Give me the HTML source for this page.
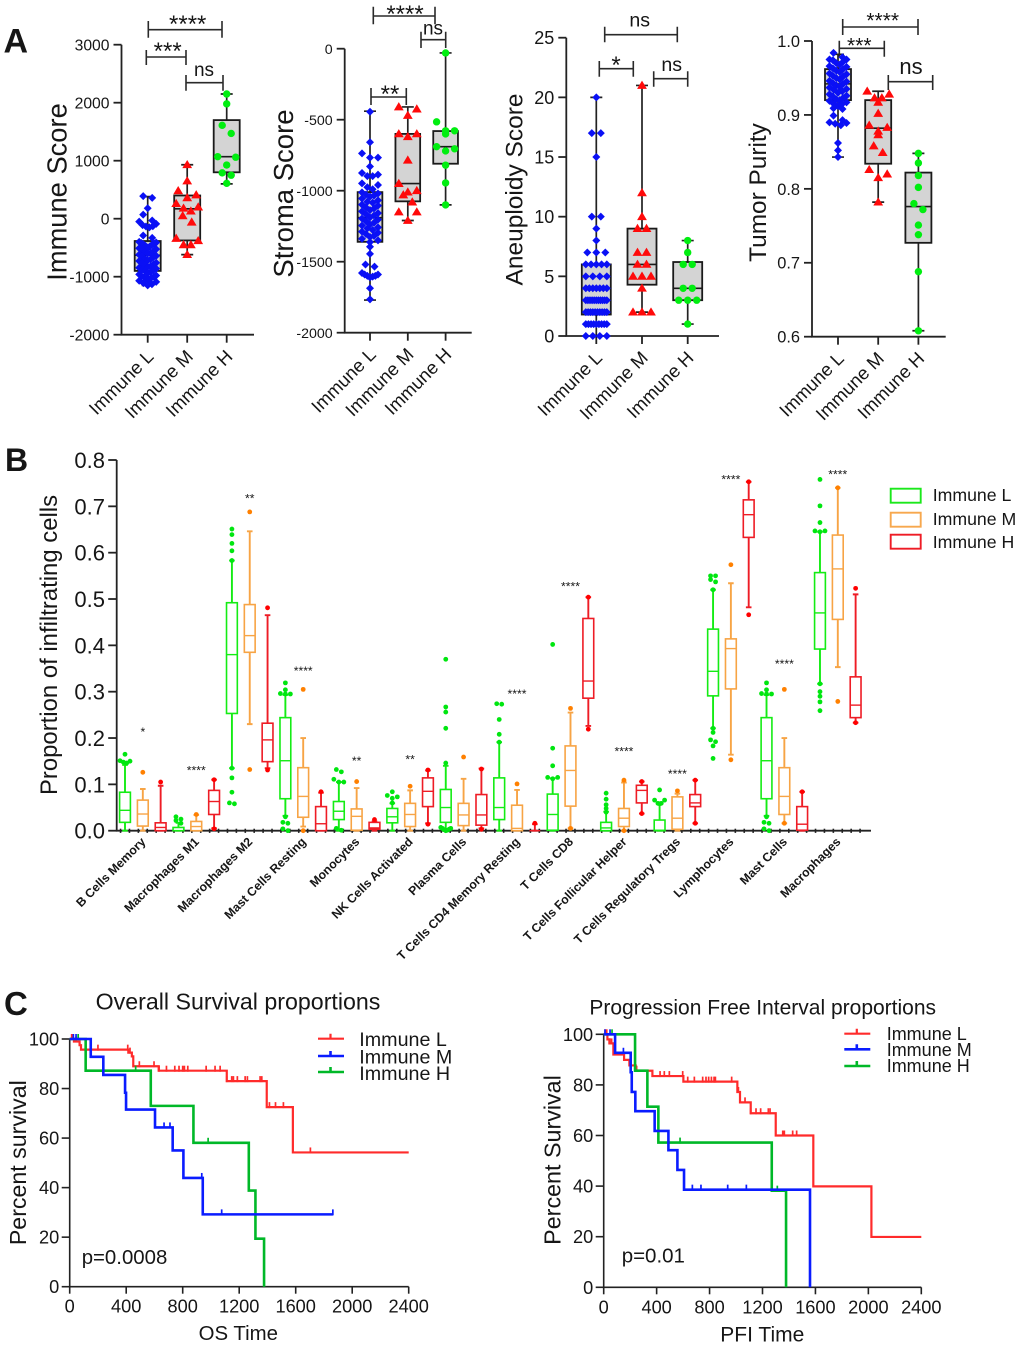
<!DOCTYPE html>
<html lang="en">
<head>
<meta charset="utf-8">
<title>Immune subgroup figure</title>
<style>
html,body{margin:0;padding:0;background:#fff}
svg{display:block;font-family:"Liberation Sans",Arial,sans-serif;fill:#161616}
.br{fill:none;stroke:#2a2a2a;stroke-width:1.6}
</style>
</head>
<body>
<svg id="figure" xmlns="http://www.w3.org/2000/svg" width="1020" height="1347" viewBox="0 0 1020 1347">
<rect x="0" y="0" width="1020" height="1347" fill="#fff"/>

<text x="3.5" y="52.7" font-size="34" font-weight="700">A</text>
<text x="5" y="471" font-size="32" font-weight="700">B</text>
<text x="4" y="1015" font-size="33" font-weight="700">C</text>

<text transform="translate(66.7 192) rotate(-90)" text-anchor="middle" font-size="27.3">Immune Score</text>
<text transform="translate(293 193.5) rotate(-90)" text-anchor="middle" font-size="27.5">Stroma Score</text>
<text transform="translate(522.7 189.5) rotate(-90)" text-anchor="middle" font-size="24.5">Aneuploidy Score</text>
<text transform="translate(766 192.5) rotate(-90)" text-anchor="middle" font-size="24.4">Tumor Purity</text>

<g>
<path class="br" d="M148.3 21V37.7M148.3 29.7H222M222 21V37.7"/>
<text x="187.7" y="32" text-anchor="middle" font-size="24">****</text>
<path class="br" d="M146.3 50V65M146.3 57H186M186 50V65"/>
<text x="167.7" y="59" text-anchor="middle" font-size="24">***</text>
<path class="br" d="M186 75V90.7M186 82.7H223M223 75V90.7"/>
<text x="204" y="76" text-anchor="middle" font-size="19">ns</text>
</g>
<g>
<path class="br" d="M373.3 6.7V24.3M373.3 16H435M435 6.7V24.3"/>
<text x="405" y="22" text-anchor="middle" font-size="24">****</text>
<path class="br" d="M421 31.7V48M421 39.7H445.7M445.7 31.7V48"/>
<text x="433" y="34.7" text-anchor="middle" font-size="19">ns</text>
<path class="br" d="M371 88V105M371 97H406.3M406.3 88V105"/>
<text x="390" y="102" text-anchor="middle" font-size="24">**</text>
</g>
<g>
<path class="br" d="M604.7 26.7V42.3M604.7 34.7H677.3M677.3 26.7V42.3"/>
<text x="639.7" y="26.7" text-anchor="middle" font-size="19.6">ns</text>
<path class="br" d="M599.3 61V76.7M599.3 68.7H633.3M633.3 61V76.7"/>
<text x="616" y="73" text-anchor="middle" font-size="24">*</text>
<path class="br" d="M653.7 71.3V86.7M653.7 78.7H687.7M687.7 71.3V86.7"/>
<text x="671.7" y="71" text-anchor="middle" font-size="19.6">ns</text>
</g>
<g>
<path class="br" d="M842.7 19V35M842.7 27H918M918 19V35"/>
<text x="882.7" y="27.7" text-anchor="middle" font-size="21">****</text>
<path class="br" d="M839.3 40.7V56.7M839.3 48.3H884.3M884.3 40.7V56.7"/>
<text x="859.3" y="52.7" text-anchor="middle" font-size="21">***</text>
<path class="br" d="M888.3 75V90M888.3 81.7H932.7M932.7 75V90"/>
<text x="911" y="74" text-anchor="middle" font-size="22">ns</text>
</g>

<text transform="translate(57 645) rotate(-90)" text-anchor="middle" font-size="23.9">Proportion of infiltrating cells</text>
<g>
<rect x="890.7" y="488.7" width="30" height="14" fill="none" stroke="#1be81b" stroke-width="1.9"/>
<text x="932.7" y="501" font-size="17.7">Immune L</text>
<rect x="890.7" y="512.7" width="30" height="14" fill="none" stroke="#f7a84e" stroke-width="1.9"/>
<text x="932.7" y="525" font-size="17.7">Immune M</text>
<rect x="890.7" y="534.7" width="30" height="14" fill="none" stroke="#ee1c25" stroke-width="1.9"/>
<text x="932.7" y="548" font-size="17.7">Immune H</text>
</g>

<text x="238" y="1009.3" text-anchor="middle" font-size="23.2">Overall Survival proportions</text>
<text transform="translate(26 1162.7) rotate(-90)" text-anchor="middle" font-size="23.2">Percent survival</text>
<text x="238.3" y="1340" text-anchor="middle" font-size="20.4">OS Time</text>
<text x="81.7" y="1264" font-size="20.4">p=0.0008</text>
<text x="762.7" y="1014.3" text-anchor="middle" font-size="21">Progression Free Interval proportions</text>
<text transform="translate(560.7 1160) rotate(-90)" text-anchor="middle" font-size="23.3">Percent Survival</text>
<text x="762.3" y="1341.7" text-anchor="middle" font-size="21">PFI Time</text>
<text x="621.7" y="1262.7" font-size="20.5">p=0.01</text>
</svg>

<script>
// ---------- Panel A data ----------
const groupNames = ['Immune L','Immune M','Immune H'];

const immuneTicks = [3000,2000,1000,0,-1000,-2000];
const immuneScoreL = [390,360,180,70,-30,-50,-90,-110,-130,-135,-150,-290,-330,-400,-410,-420,-435,-440,-450,-470,-480,-500,-510,-525,-540,-560,-570,-590,-600,-620,-640,-650,-665,-690,-700,-720,-730,-760,-770,-790,-800,-820,-830,-845,-860,-880,-890,-900,-920,-940,-960,-980,-990,-1000,-1010,-1020,-1035,-1050,-1070,-1090,-1110,-1130,-1150];
const immuneScoreM = [930,650,480,410,360,260,200,180,130,50,-60,-340,-380,-450,-450,-620];
const immuneScoreH = [2150,1980,1610,1470,1070,1060,925,790,750,610];
const immuneBoxes = [[-1150,-900,-630,-385,380],[-620,-375,170,400,930],[600,800,1070,1700,2150]];

const stromaTicks = [0,-500,-1000,-1500,-2000];
const stromaScoreL = [-444,-659,-737,-767,-767,-830,-875,-887,-897,-897,-948,-960,-976,-990,-1012,-1020,-1028,-1035,-1042,-1055,-1068,-1078,-1085,-1098,-1105,-1118,-1125,-1137,-1146,-1158,-1166,-1175,-1188,-1196,-1204,-1215,-1226,-1238,-1245,-1258,-1265,-1277,-1288,-1296,-1305,-1318,-1326,-1338,-1350,-1362,-1395,-1445,-1520,-1535,-1580,-1590,-1590,-1600,-1600,-1605,-1610,-1687,-1765];
const stromaScoreM = [-410,-425,-470,-600,-600,-620,-785,-950,-1000,-1010,-1030,-1080,-1150,-1150,-1210];
const stromaScoreH = [-30,-515,-578,-578,-600,-690,-705,-720,-820,-945,-1100];
const stromaBoxes = [[-1770,-1360,-1190,-1010,-440],[-1210,-1075,-950,-600,-410],[-1100,-810,-690,-580,-30]];

const aneuploidyTicks = [25,20,15,10,5,0];
const aneuploidyL = [0,0,0,0,1,1,1,1,1,1,1,1,1,2,2,2,2,2,2,2,2,2,2,3,3,3,3,3,3,3,3,3,3,3,4,4,4,4,4,4,4,5,5,5,5,6,6,6,6,6,7,7,7,8,9,10,10,15,17,17,20];
const aneuploidyM = [2,2,2,4,5,5,5,6,6,7,7,9,9,10,12,21];
const aneuploidyH = [1,3,3,3,4,4,6,6,7,8];
const aneuploidyBoxes = [[0,1.8,3,6,20],[2,4.3,6,9,21],[1,3,4,6.2,8]];

const purityTicks = ['1.0','0.9','0.8','0.7','0.6'];
const purityL = [.984,.978,.975,.975,.974,.972,.97,.968,.966,.965,.963,.962,.96,.958,.956,.955,.953,.952,.95,.948,.946,.945,.943,.942,.94,.938,.937,.935,.934,.932,.93,.928,.926,.925,.923,.921,.92,.919,.917,.915,.915,.912,.909,.908,.899,.893,.89,.889,.888,.886,.862,.852,.843];
const purityM = [.932,.928,.923,.923,.917,.902,.886,.883,.878,.873,.858,.849,.826,.82,.815,.782];
const purityH = [.848,.835,.818,.802,.78,.772,.751,.738,.688,.608];
const purityBoxes = [[.843,.92,.942,.962,.982],[.782,.834,.882,.92,.932],[.608,.727,.776,.822,.848]];

// ---------- Panel B data ----------
const cellTypes = ['B Cells Memory','Macrophages M1','Macrophages M2','Mast Cells Resting','Monocytes','NK Cells Activated','Plasma Cells','T Cells CD4 Memory Resting','T Cells CD8','T Cells Follicular Helper','T Cells Regulatory Tregs','Lymphocytes','Mast Cells','Macrophages'];
const proportionTicks = ['0.8','0.7','0.6','0.5','0.4','0.3','0.2','0.1','0.0'];
const boxL = [[0,.018,.044,.083,.142],[0,0,0,.007,.017],[.135,.253,.38,.492,.583],[.032,.069,.151,.244,.293],[0,.024,.042,.063,.105],[0,.017,.03,.048,.059],[0,.018,.05,.089,.14],[0,.024,.05,.114,.191],[0,.001,.035,.079,.113],[0,0,.006,.018,.041],[0,0,.001,.023,.059],[.221,.291,.344,.435,.52],[.032,.069,.151,.244,.293],[.317,.392,.47,.557,.645]];
const boxM = [[0,.01,.036,.066,.09],[0,0,.009,.02,.034],[.23,.385,.421,.488,.646],[.009,.029,.074,.136,.2],[0,.001,.031,.047,.092],[0,.009,.035,.059,.087],[0,.011,.034,.059,.112],[0,0,.005,.055,.088],[.005,.053,.13,.183,.255],[0,.009,.027,.048,.104],[0,.003,.027,.073,.08],[.164,.306,.393,.414,.534],[.016,.035,.074,.136,.2],[.353,.456,.565,.638,.74]];
const boxH = [[0,0,.007,.017,.097],[.005,.035,.063,.087,.11],[.135,.149,.196,.232,.465],[0,0,.015,.052,.082],[0,.003,.006,.018,.02],[.016,.052,.085,.114,.13],[.005,.012,.034,.078,.134],[0,0,0,0,.014],[.226,.286,.323,.458,.504],[.037,.06,.087,.098,.106],[.016,.052,.06,.078,.109],[.482,.633,.682,.714,.753],[0,.001,.014,.052,.084],[.233,.244,.271,.332,.51]];
const outL = [[.165,.15,.148,.151,.146],[.03,.025,.022,.016],[.651,.639,.62,.604,.583,.135,.114,.083,.06,.058],[.319,.304,.296,.295,.295,.03,.018,.016,.004,0],[.132,.127,.111,.105,.105,.005,.001],[.084,.076,.073,.07,.06],[.37,.267,.256,.221,.146,.007,.005,.005,.003,.002,.001,0],[.274,.273,.24,.208,.191],[.402,.178,.14,.115,.115,.112],[.081,.068,.056,.048,.04],[.088,.066,.066,.059,.059,.058],[.55,.55,.542,.537,.52,.221,.212,.196,.192,.183,.156],[.319,.304,.296,.295,.295,.03,.018,.016,.004,0],[.758,.701,.665,.647,.645,.647,.317,.3,.29,.278,.259]];
const outM = [[.126],[.035],[.688,.132],[.305,0],[.106],[.096],[.159],[.101],[.264,.005],[.109,0],[.086],[.574,.153],[.305,.016],[.74,.279]];
const outH = [[.105],[.11,.004],[.481,.131],[.084],[.024],[.131,.014],[.133,.003],[.016],[.504,.219],[.106,.037],[.109,.016],[.753,.466],[.084],[.523,.233]];
const sigLabels = ['*','****','**','****','**','**','','****','****','****','****','****','****','****'];
const sigLevels = [.219,.136,.723,.351,.157,.16,0,.301,.534,.177,.129,.764,.366,.775];

// ---------- Panel C data ----------
const timeTicks = [0,400,800,1200,1600,2000,2400];
const survivalTicks = [100,80,60,40,20,0];
const osTimeL = [0,30,70,80,415,440,450,630,1112,1395,1580,2400];
const osSurvL = [100,99,97.5,95.7,94.5,93,89,87.2,83,72.5,54.2,54.2];
const osCensorL = [14,45,200,411,427,493,597,633,685,744,774,800,812,836,966,1029,1065,1112,1147,1159,1187,1242,1258,1348,1360,1414,1457,1513,1704];
const osTimeM = [0,149,238,392,399,604,729,805,942,1863];
const osSurvM = [100,92.8,85.5,78.3,71.5,64.3,55,43.9,29.2,29.2];
const osCensorM = [26,45,668,710,935,1076,1863];
const osTimeH = [0,113,574,876,1268,1315,1376];
const osSurvH = [100,87.2,73,58.1,38.8,19.4,0];
const osCensorH = [60,467,980];
const pfiTimeL = [0,28,43,73,154,194,242,368,602,1010,1030,1111,1300,1584,2023,2400];
const pfiSurvL = [100,98,96.4,92,89.9,87.7,85.6,83.5,81.3,77.2,73.1,68.8,60,39.9,19.9,19.9];
const pfiCensorL = [10,23,48,60,249,426,458,496,597,635,685,748,773,793,814,834,844,967,1018,1068,1111,1151,1186,1244,1257,1353,1365,1428,1458];
const pfiTimeM = [0,86,204,212,239,385,489,557,607,1559];
const pfiSurvM = [100,92.7,85,77.2,69.6,61.8,54.2,46.4,38.6,0];
const pfiCensorM = [10,48,149,670,735,937,1078];
const pfiTimeH = [0,237,330,413,1270,1378];
const pfiSurvH = [100,85.6,71.4,57.2,38.2,0];
const pfiCensorH = [63,237,577,1312];

// ---------- Helpers ----------
const svgEl = document.getElementById('figure');
const NS = 'http://www.w3.org/2000/svg';
function mk(tag, attrs, parent){
  const e = document.createElementNS(NS, tag);
  for (const k in attrs) e.setAttribute(k, attrs[k]);
  parent.appendChild(e);
  return e;
}
function swarm(values, yOf, binPx, spacing, maxW){
  const sorted = values.slice().sort((a,b)=>b-a);
  const bins = [];
  sorted.forEach(v=>{
    const b = bins[bins.length-1];
    if (b && Math.abs(yOf(b[0])-yOf(v)) < binPx) b.push(v); else bins.push([v]);
  });
  const out = [];
  bins.forEach(b=>{
    const n = b.length;
    const d = n>1 ? Math.min(spacing, maxW/(n-1)) : 0;
    // highest values go to the outside, producing the chevron pattern of the swarm
    const slots = [];
    for (let i=0;i<n;i++) slots.push((i-(n-1)/2)*d);
    slots.sort((p,q)=>Math.abs(q)-Math.abs(p));
    b.forEach((v,i)=>out.push({v:v,dx:slots[i]}));
  });
  return out;
}
function marker(kind, x, y, color, parent){
  if (kind==='circle') return mk('circle',{cx:x,cy:y,r:3.7,fill:color},parent);
  if (kind==='diamond') return mk('path',{d:`M${x} ${y-4}L${x+4} ${y}L${x} ${y+4}L${x-4} ${y}Z`,fill:color},parent);
  return mk('path',{d:`M${x} ${y-4.8}L${x+4.9} ${y+3.4}L${x-4.9} ${y+3.4}Z`,fill:color},parent);
}

// ---------- Panel A ----------
function drawSwarmPanel(cfg){
  const root = mk('g',{},svgEl);
  
  
  const y = v => cfg.yTop + (cfg.vTop - v) * (cfg.yBottom - cfg.yTop) / (cfg.vTop - cfg.vBottom);
  const x = i => cfg.catStart + i * cfg.catStep;
  const axis = mk('path',{d:`M${cfg.axisX} ${cfg.yTop}V${cfg.yBottom}H${cfg.xEnd}`,fill:'none',stroke:'#222','stroke-width':1.8},root);
  
  
  cfg.ticks.forEach(t=>{
    const v = +t, py = y(v);
    const tk = mk('line',{x1:cfg.axisX-8,x2:cfg.axisX,y1:py,y2:py,stroke:'#222','stroke-width':1.8},root);
    
    
    const lb = mk('text',{x:cfg.axisX-12,y:py+cfg.tickFont*0.36,'text-anchor':'end','font-size':cfg.tickFont},root);
    
    
    lb.textContent = t;
  });
  const kinds = ['diamond','triangle','circle'];
  const colors = ['#0a10f5','#ff0a0a','#00ee10'];
  const binPx = [6,9,9];
  groupNames.forEach((g,i)=>{
    const cx = x(i), st = cfg.boxes[i], hw = cfg.boxW/2;
    const grp = mk('g',{},root);
    
    
    const tk = mk('line',{x1:cx,x2:cx,y1:cfg.yBottom,y2:cfg.yBottom+8,stroke:'#222','stroke-width':1.8},grp);
    
    
    const wh = mk('path',{d:`M${cx} ${y(st[0])}V${y(st[4])}M${cx-6} ${y(st[0])}H${cx+6}M${cx-6} ${y(st[4])}H${cx+6}`,fill:'none',stroke:'#222','stroke-width':1.7},grp);
    
    
    const bx = mk('rect',{x:cx-hw,y:y(st[3]),width:cfg.boxW,height:y(st[1])-y(st[3]),fill:'#d4d4d4',stroke:'#1a1a1a','stroke-width':1.8},grp);
    
    
    const md = mk('line',{x1:cx-hw,x2:cx+hw,y1:y(st[2]),y2:y(st[2]),stroke:'#1a1a1a','stroke-width':1.6},grp);
    
    
    const maxW = i===0 ? cfg.swarmW : cfg.boxW-4;
    swarm(cfg.series[i],y,binPx[i],9,maxW).forEach(p=>{
      const m = marker(kinds[i],cx+p.dx,y(p.v),colors[i],grp);
      
      
    });
    const lab = mk('text',{transform:`translate(${cx+7} ${cfg.yBottom+23}) rotate(-45)`,'text-anchor':'end','font-size':cfg.catFont},grp);
    
    
    lab.textContent = g;
  });
}
drawSwarmPanel({name:'immune-score',axisX:121.5,yTop:44.7,yBottom:334.7,vTop:3000,vBottom:-2000,xEnd:254,catStart:147.7,catStep:39.5,boxW:26,swarmW:17,ticks:immuneTicks,tickFont:15.7,catFont:18.5,series:[immuneScoreL,immuneScoreM,immuneScoreH],boxes:immuneBoxes});
drawSwarmPanel({name:'stroma-score',axisX:344.7,yTop:48.7,yBottom:332.7,vTop:0,vBottom:-2000,xEnd:471.7,catStart:370,catStep:37.8,boxW:24.7,swarmW:16,ticks:stromaTicks,tickFont:14.2,catFont:18.5,series:[stromaScoreL,stromaScoreM,stromaScoreH],boxes:stromaBoxes});
drawSwarmPanel({name:'aneuploidy-score',axisX:566.3,yTop:37.7,yBottom:336,vTop:25,vBottom:0,xEnd:719,catStart:596.3,catStep:45.7,boxW:29,swarmW:21,ticks:aneuploidyTicks,tickFont:18,catFont:18.5,series:[aneuploidyL,aneuploidyM,aneuploidyH],boxes:aneuploidyBoxes});
drawSwarmPanel({name:'tumor-purity',axisX:812,yTop:41,yBottom:336.7,vTop:1.0,vBottom:0.6,xEnd:945.7,catStart:838,catStep:40.2,boxW:26,swarmW:17,ticks:purityTicks,tickFont:16.4,catFont:18.5,series:[purityL,purityM,purityH],boxes:purityBoxes});

// ---------- Panel B ----------
(function(){
  const root = mk('g',{},svgEl);
  
  
  const axisX = 116.7, yTop = 460, yBottom = 830.7, xEnd = 871;
  const slot = 17.82, x0 = 125;
  const y = v => yBottom - v * (yBottom - yTop) / 0.8;
  const axis = mk('path',{d:`M${axisX} ${yTop}V${yBottom}H${xEnd}`,fill:'none',stroke:'#222','stroke-width':1.8},root);
  
  
  proportionTicks.forEach(t=>{
    const py = y(+t);
    const tk = mk('line',{x1:axisX-8.5,x2:axisX,y1:py,y2:py,stroke:'#222','stroke-width':1.8},root);
    
    
    const lb = mk('text',{x:105,y:py+8,'text-anchor':'end','font-size':22},root);
    
    
    lb.textContent = t;
  });
  for (let k=0;k<84;k++){
    const tx = x0 - slot/4 + k*slot/2;
    if (tx > xEnd) break;
    const tk = mk('line',{x1:tx,x2:tx,y1:yBottom-2,y2:yBottom+2.2,stroke:'#222','stroke-width':1.6},root);
    
    
  }
  const strokes = ['#14ec14','#f7a445','#ee1c25'];
  const dots = ['#00e610','#ff8000','#ff0000'];
  const boxes = [boxL,boxM,boxH];
  const outs = [outL,outM,outH];
  cellTypes.forEach((c,gi)=>{
    const grp = mk('g',{},root);
    
    
    for (let s=0;s<3;s++){
      const cx = x0 + (gi*3+s)*slot, st = boxes[s][gi], hw = 5.4;
      const wh = mk('path',{d:`M${cx} ${y(st[0])}V${y(st[4])}M${cx-2.8} ${y(st[0])}H${cx+2.8}M${cx-2.8} ${y(st[4])}H${cx+2.8}`,fill:'none',stroke:strokes[s],'stroke-width':1.9},grp);
      
      
      const bx = mk('rect',{x:cx-hw,y:y(st[3]),width:hw*2,height:y(st[1])-y(st[3]),fill:'#fff',stroke:strokes[s],'stroke-width':1.6},grp);
      
      
      const md = mk('line',{x1:cx-hw,x2:cx+hw,y1:y(st[2]),y2:y(st[2]),stroke:strokes[s],'stroke-width':1.4},grp);
      
      
      swarm(outs[s][gi],y,3.5,5,10).forEach(p=>{
        const d = mk('circle',{cx:cx+p.dx,cy:y(p.v),r:2.4,fill:dots[s]},grp);
        
        
      });
    }
    const mid = x0 + (gi*3+1)*slot;
    if (sigLabels[gi]){
      const st = mk('text',{x:mid,y:y(sigLevels[gi])+7,'text-anchor':'middle','font-size':12.2},grp);
      
      
      st.textContent = sigLabels[gi];
    }
    const lab = mk('text',{transform:`translate(${mid+3.5} 842.5) rotate(-45)`,'text-anchor':'end','font-size':12.3,'font-weight':700},grp);
    
    
    lab.textContent = c;
  });
})();

// ---------- Panel C ----------
function stepAt(times, surv, t){
  let s = surv[0];
  for (let i=0;i<times.length;i++) if (times[i] <= t) s = surv[i];
  return s;
}
function drawKM(cfg){
  const root = mk('g',{},svgEl);
  
  
  const x = t => cfg.x0 + t * (cfg.x1 - cfg.x0) / 2400;
  const y = s => cfg.y0 + (100 - s) * (cfg.y1 - cfg.y0) / 100;
  const axis = mk('path',{d:`M${cfg.x0} ${cfg.y0}V${cfg.y1}H${cfg.x1}`,fill:'none',stroke:'#222','stroke-width':1.6},root);
  
  
  survivalTicks.forEach(t=>{
    const tk = mk('line',{x1:cfg.x0-8,x2:cfg.x0,y1:y(t),y2:y(t),stroke:'#222','stroke-width':1.6},root);
    
    
    const lb = mk('text',{x:cfg.x0-10.5,y:y(t)+6.5,'text-anchor':'end','font-size':18.2},root);
    
    
    lb.textContent = t;
  });
  timeTicks.forEach(t=>{
    const tk = mk('line',{x1:x(t),x2:x(t),y1:cfg.y1,y2:cfg.y1+7,stroke:'#222','stroke-width':1.6},root);
    
    
    const lb = mk('text',{x:x(t),y:cfg.y1+26,'text-anchor':'middle','font-size':18.2},root);
    
    
    lb.textContent = t;
  });
  cfg.series.forEach(s=>{
    const grp = mk('g',{},root);
    
    
    let d = `M${x(s.time[0])} ${y(s.surv[0])}`;
    for (let i=1;i<s.time.length;i++) d += `H${x(s.time[i])}V${y(s.surv[i])}`;
    const line = mk('path',{d:d,fill:'none',stroke:s.color,'stroke-width':s.width},grp);
    
    
    s.censor.forEach(t=>{
      const py = y(stepAt(s.time,s.surv,t));
      const c = mk('line',{x1:x(t),x2:x(t),y1:py-5,y2:py+1,stroke:s.color,'stroke-width':1.7},grp);
      
      
    });
  });
  cfg.legend.forEach((s,i)=>{
    const ly = cfg.legendLineY[i];
    const grp = mk('g',{},root);
    
    
    const ln = mk('path',{d:`M${cfg.legendX} ${ly}H${cfg.legendX+26}M${cfg.legendX+12.5} ${ly-5}V${ly}`,fill:'none',stroke:s.color,'stroke-width':s.width},grp);
    
    
    const tx = mk('text',{x:cfg.legendTextX,y:cfg.legendTextY[i],'font-size':cfg.legendFont},grp);
    
    
    tx.textContent = s.label;
  });
}
const kmRed = '#ff2b2b', kmBlue = '#0a1cff', kmGreen = '#00b828';
const osSeries = [
  {label:'Immune L',color:kmRed,width:2.2,time:osTimeL,surv:osSurvL,censor:osCensorL},
  {label:'Immune H',color:kmGreen,width:2.6,time:osTimeH,surv:osSurvH,censor:osCensorH},
  {label:'Immune M',color:kmBlue,width:2.6,time:osTimeM,surv:osSurvM,censor:osCensorM}];
const pfiSeries = [
  {label:'Immune L',color:kmRed,width:2.2,time:pfiTimeL,surv:pfiSurvL,censor:pfiCensorL},
  {label:'Immune H',color:kmGreen,width:2.6,time:pfiTimeH,surv:pfiSurvH,censor:pfiCensorH},
  {label:'Immune M',color:kmBlue,width:2.6,time:pfiTimeM,surv:pfiSurvM,censor:pfiCensorM}];
drawKM({name:'os',x0:69.7,x1:408.7,y0:1039,y1:1286.7,series:osSeries,legend:[osSeries[0],osSeries[2],osSeries[1]],legendX:318,legendLineY:[1038.7,1056,1072],legendTextX:359.3,legendTextY:[1046,1063.3,1080],legendFont:19.7});
drawKM({name:'pfi',x0:603.7,x1:921.3,y0:1034.3,y1:1287.3,series:pfiSeries,legend:[pfiSeries[0],pfiSeries[2],pfiSeries[1]],legendX:844.3,legendLineY:[1033.7,1049.3,1066],legendTextX:886.7,legendTextY:[1040,1056,1072],legendFont:18});
</script>
</body>
</html>
